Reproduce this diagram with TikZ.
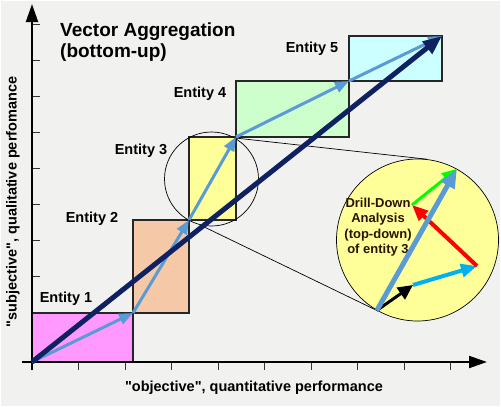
\documentclass[tikz,border=0pt]{standalone}
\usepackage{fontspec}
\setmainfont{Liberation Sans}
\usetikzlibrary{arrows.meta}
\definecolor{bgcol}{HTML}{F1F2F0}
\definecolor{entone}{HTML}{FF99FF}
\definecolor{enttwo}{HTML}{F5C9A8}
\definecolor{entthree}{HTML}{FFFF99}
\definecolor{entfour}{HTML}{CCFFCC}
\definecolor{entfive}{HTML}{CCFFFF}
\definecolor{vecblue}{HTML}{5B9BD5}
\definecolor{navy}{HTML}{0F2160}
\definecolor{skyblue}{HTML}{00B0F0}
\definecolor{drilltext}{HTML}{2A1400}
\tikzset{
	box/.style={draw=black!85, line width=1.5pt, outer sep=0pt, inner sep=0pt, anchor=south west},
	entlabel/.style={font=\fontsize{14.5}{16}\selectfont\bfseries},
	vec/.style={draw=vecblue, line width=3pt, -{Triangle[length=14pt,width=11pt]}},
	sumvec/.style={draw=navy, line width=5pt, -{Triangle[length=19pt,width=15pt]}},
	axis/.style={line width=2pt, -{Triangle[length=18pt,width=12pt]}},
	tick/.style={line width=1pt, black!80},
	loupe/.style={draw=black, line width=0.7pt, circle, inner sep=0pt},
}
\begin{document}
\begin{tikzpicture}[x=1pt, y=-1pt]
	\useasboundingbox (0,0) rectangle (501,407);
	\fill[bgcol] (0,0) rectangle (501,407);
	\draw[white, line width=2pt] (0,0) rectangle (501,407);
	%%%%%%%%%%%%%
	\coordinate (o) at (32,362);
	\coordinate (xs) at (22,362);
	\coordinate (xe) at (487,362);
	\coordinate (ys) at (32,370);
	\coordinate (ye) at (32,4);
	\foreach \k in {1,...,9}
		\draw[tick] (32+46.5*\k,362) -- (32+46.5*\k,370);
	\foreach \k in {0,...,9}
		\draw[tick] (32,24+36.1*\k) -- (40,24+36.1*\k);
	%%%%%%%%%%%%%
	\node[box, fill=entone, minimum width=101pt, minimum height=49pt] (e1) at (o) {};
	\node[box, fill=enttwo, minimum width=56pt, minimum height=93pt] (e2) at (e1.north east) {};
	\node[box, fill=entthree, minimum width=47pt, minimum height=83pt] (e3) at (e2.north east) {};
	\node[box, fill=entfour, minimum width=113pt, minimum height=56pt] (e4) at (e3.north east) {};
	\node[box, fill=entfive, minimum width=93pt, minimum height=45pt] (e5) at (e4.north east) {};
	\node[entlabel] (l1) at (66,299) {Entity 1};
	\node[entlabel] (l2) at (92,219) {Entity 2};
	\node[entlabel] (l3) at (141,151) {Entity 3};
	\node[entlabel] (l4) at (200,94) {Entity 4};
	\node[entlabel] (l5) at (312,49) {Entity 5};
	\node[anchor=base west, align=left, inner sep=0pt, font=\fontsize{19}{21}\selectfont\bfseries] (title) at (60,57) {Vector Aggregation\\(bottom-up)};
	%%%%%%%%%%%%%
	\draw[axis] (xs) -- (xe);
	\draw[axis] (ys) -- (ye);
	\node[entlabel] (xlabel) at (254,388) {\textquotedbl objective\textquotedbl, quantitative performance};
	\node[entlabel, rotate=90] (ylabel) at (13,202) {\textquotedbl subjective\textquotedbl, qualitative perfomance};
	%%%%%%%%%%%%%
	\node[loupe, minimum size=94pt] (zs) at (211.5,179) {};
	\node[loupe, fill=entthree, minimum size=162pt] (zb) at (417.5,240) {};
	\draw[line width=0.7pt] (zs.60) -- (zb.83);
	\draw[line width=0.7pt] (zs.-104) -- (zb.-120);
	%%%%%%%%%%%%%
	\draw[vec] (o) -- (e1.north east);
	\draw[vec] (e1.north east) -- (e2.north east);
	\draw[vec] (e2.north east) -- (e3.north east);
	\draw[vec] (e3.north east) -- (e4.north east);
	\draw[vec] (e4.north east) -- (e5.north east);
	\draw[sumvec] (o) -- (e5.north east);
	%%%%%%%%%%%%%
	\node[align=center, text=drilltext, font=\fontsize{13}{15.5}\selectfont\bfseries] (drill) at (378,227) {Drill-Down\\Analysis\\(top-down)\\of entity 3};
	\coordinate (d1) at (413,285);
	\coordinate (d2) at (477,266);
	\coordinate (d3) at (412,205);
	\draw[black, line width=3pt, -{Triangle[length=15pt,width=14pt]}] (zb.-120) -- (d1);
	\draw[skyblue, line width=4pt, -{Triangle[length=16pt,width=13pt]}] (d1) -- (d2);
	\draw[red, line width=4pt, -{Triangle[length=16pt,width=13pt]}] (d2) -- (d3);
	\draw[green, line width=3pt, -{Triangle[length=15pt,width=12pt]}] (d3) -- (zb.61);
	\draw[vecblue, line width=5pt, -{Triangle[length=19pt,width=15pt]}] (zb.-120) -- (zb.61);
\end{tikzpicture}
\end{document}
